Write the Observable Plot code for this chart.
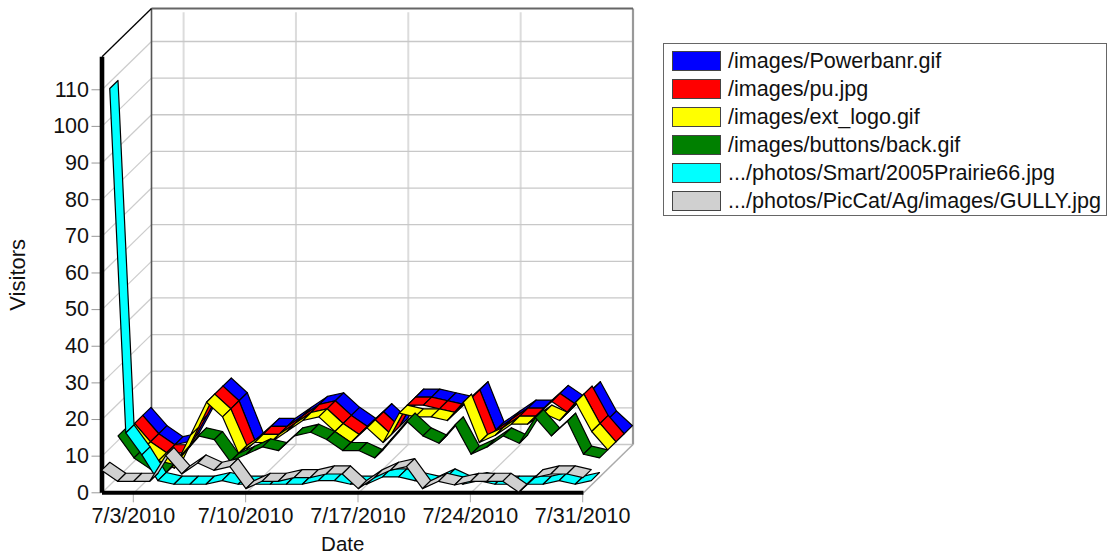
<!DOCTYPE html>
<html>
<head>
<meta charset="utf-8">
<script src="https://cdn.jsdelivr.net/npm/d3@7"></script>
<script src="https://cdn.jsdelivr.net/npm/@observablehq/plot@0.6"></script>
<style>
html,body{margin:0;padding:0;background:#fff;}
#wrap{position:relative;width:1108px;height:557px;overflow:hidden;font-family:"Liberation Sans",Arial,sans-serif;}
#legend{position:absolute;left:663px;top:43px;width:444px;height:173px;box-sizing:border-box;border:1.5px solid #666;background:#fff;}
.row{position:absolute;left:0;height:28px;white-space:nowrap;font-size:21.55px;line-height:28px;color:#111;}
.sw{position:absolute;left:8px;top:4px;width:47px;height:18px;border:1px solid #444;}
.lb{position:absolute;left:64px;top:0;}
</style>
</head>
<body>
<div id="wrap"><div id="legend"></div></div>
<script>
const seriesNames = ["/images/Powerbanr.gif","/images/pu.jpg","/images/ext_logo.gif","/images/buttons/back.gif",".../photos/Smart/2005Prairie66.jpg",".../photos/PicCat/Ag/images/GULLY.jpg"];
const seriesColors = ["#0000ff","#ff0000","#ffff00","#008000","#00ffff","#d0d0d0"];
const blue   = [10,5,2,3,11,18,14,3,7,7,10,13,14,10,7,11,7,15,15,14,13,17,6,9,12,12,16,13,17,9,5];
const red    = [10,5,2,2,10,18,14,3,7,7,10,13,14,10,7,11,7,15,15,14,13,17,6,9,12,12,16,13,18,10,5];
const yellow = [10,5,2,0,9,18,14,4,7,7,10,13,14,10,7,11,7,15,14,14,13,18,7,9,12,12,15,13,18,10,5];
const green  = [11,5,2,1,6,11,10,4,6,8,7,11,12,10,7,7,5,10,15,11,9,14,6,8,11,9,16,11,15,6,5];
const cyan   = [108,14,8,1,0,0,0,1,0,0,0,0,0,1,1,0,0,2,2,1,0,2,0,1,0,0,0,0,1,0,1];
const gully  = [6,3,3,3,10,5,8,6,7,1,3,3,4,4,5,5,1,4,6,7,1,3,2,3,3,3,0,4,5,5,4];
const tickDays = [3,10,17,24,31];
const yTicks = d3.range(0,111,10);

const DAY = 864e5;
const day = d => Date.UTC(2010,6,d);
const depthDays = 3.084, depthY = 13.18, wallTop = 119, nSeries = 6;
const depthX = depthDays*DAY;
const start = day(1), end = day(31);
const D = ms => new Date(ms);

function ribbon(values, k){
  const rows = [];
  const a = k/nSeries, b = (k+1)/nSeries;
  for (let i=0;i<values.length-1;i++){
    for (const j of [i,i+1]){
      const t = day(1+j);
      rows.push({z:i,
        x1:D(t+a*depthX), y1:values[j]+a*depthY,
        x2:D(t+b*depthX), y2:values[j]+b*depthY});
    }
  }
  return rows;
}
const link = (x1,y1,x2,y2)=>({x1:D(x1),y1,x2:D(x2),y2});
const link3 = (rows,o)=>Plot.link(rows,{x1:"x1",y1:"y1",x2:"x2",y2:"y2",...o});

const backH = yTicks.slice(1).map(v=>link(start+depthX,v+depthY,end+depthX,v+depthY));
const sideD = yTicks.slice(1).map(v=>link(start,v,start+depthX,v+depthY));
const backV = tickDays.map(d=>link(day(d)+depthX,depthY,day(d)+depthX,wallTop+depthY-1));
const floorD = tickDays.slice(0,-1).map(d=>link(day(d),0,day(d)+depthX,depthY));

const stack = [[blue,5,0],[red,4,1],[yellow,3,2],[green,2,3],[cyan,1,4],[gully,0,5]];

const chart = Plot.plot({
  width:1108,height:557,
  marginLeft:101.5,marginRight:475.5,marginTop:8,marginBottom:64.7,
  style:{fontFamily:"'Liberation Sans',Arial,sans-serif",background:"transparent",overflow:"visible"},
  x:{type:"utc",domain:[D(start),D(end+depthX)]},
  y:{domain:[0,wallTop+depthY]},
  marks:[
    link3(backV,{stroke:"#dcdcdc",strokeWidth:2}),
    link3(backH,{stroke:"#c8c8c8",strokeWidth:1.3}),
    link3(sideD,{stroke:"#cccccc",strokeWidth:1.2}),
    link3(floorD,{stroke:"#cccccc",strokeWidth:1.2}),
    link3([link(start,0,start+depthX,depthY)],{stroke:"#cccccc",strokeWidth:1.2}),
    link3([link(start+depthX,depthY,end+depthX,depthY)],{stroke:"#c8c8c8",strokeWidth:1.5}),
    link3([link(end+depthX,depthY,end+depthX,wallTop+depthY)],{stroke:"#999999",strokeWidth:2.2}),
    link3([link(end,0,end+depthX,depthY)],{stroke:"#aaaaaa",strokeWidth:1.5}),
    link3([link(start+depthX,depthY,start+depthX,wallTop+depthY)],{stroke:"#555555",strokeWidth:1.6}),
    link3([link(start+depthX,wallTop+depthY,end+depthX,wallTop+depthY)],{stroke:"#666666",strokeWidth:1.8}),
    link3([link(start,wallTop,start+depthX,wallTop+depthY)],{stroke:"#000",strokeWidth:1.3}),
    Plot.axisY({ticks:yTicks,anchor:"left",tickSize:10,tickPadding:3,stroke:"#999",fill:"#111",fontSize:21.5,label:null,tickFormat:d=>String(d)}),
    Plot.axisX({ticks:tickDays.map(d=>D(day(d))),anchor:"bottom",tickSize:10,tickPadding:5,stroke:"#aaa",fill:"#111",fontSize:21.5,dx:-0.8,label:null,tickFormat:d3.utcFormat("%-m/%-d/%Y")}),
    link3([link(start,0,end,0)],{stroke:"#000",strokeWidth:4}),
    link3([link(start,0,start,wallTop)],{stroke:"#000",strokeWidth:4.6}),
    ...stack.map(([vals,k,c])=>Plot.area(ribbon(vals,k),{x1:"x1",y1:"y1",x2:"x2",y2:"y2",z:"z",fill:seriesColors[c],stroke:"#000",strokeWidth:1.2})),
    Plot.text([{x:D(day(16)),y:0,t:"Date"}],{x:"x",y:"y",text:"t",dy:52,fontSize:20.5,fill:"#111"}),
    Plot.text([{x:D(start),y:59.5,t:"Visitors"}],{x:"x",y:"y",text:"t",dx:-84.5,rotate:-90,fontSize:22,fill:"#111"})
  ]
});
const wrap = document.getElementById("wrap");
wrap.insertBefore(chart, wrap.firstChild);
chart.style.position="absolute";chart.style.left="0";chart.style.top="0";

const legend = document.getElementById("legend");
seriesNames.forEach((n,i)=>{
  const r=document.createElement("div");r.className="row";r.style.top=(3+i*28)+"px";
  const s=document.createElement("div");s.className="sw";s.style.background=seriesColors[i];
  const l=document.createElement("div");l.className="lb";l.textContent=n;
  r.append(s,l);legend.append(r);
});
</script>
</body>
</html>
